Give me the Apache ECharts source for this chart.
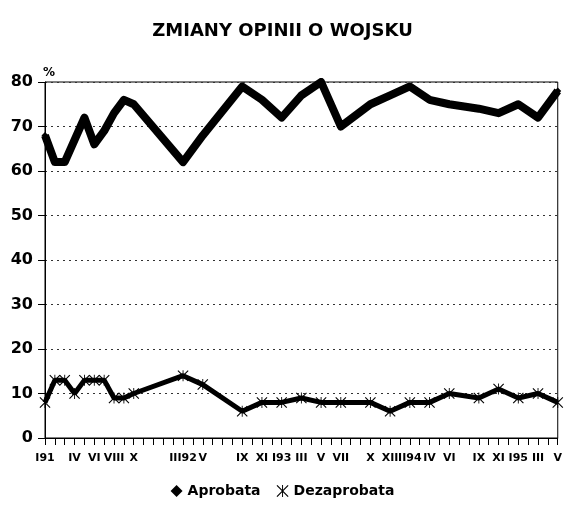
<!DOCTYPE html>
<html>
<head>
<meta charset="utf-8">
<script src="https://cdn.jsdelivr.net/npm/echarts@6/dist/echarts.min.js"></script>
<style>
html,body{margin:0;padding:0;background:#fff;}
#chart{width:565px;height:508px;}
</style>
</head>
<body>
<div id="chart"></div>
<script>
// All months on the axis, I 1991 .. V 1995
const months = [
  'I 91','II 91','III 91','IV 91','V 91','VI 91','VII 91','VIII 91','IX 91','X 91','XI 91','XII 91',
  'I 92','II 92','III 92','IV 92','V 92','VI 92','VII 92','VIII 92','IX 92','X 92','XI 92','XII 92',
  'I 93','II 93','III 93','IV 93','V 93','VI 93','VII 93','VIII 93','IX 93','X 93','XI 93','XII 93',
  'I 94','II 94','III 94','IV 94','V 94','VI 94','VII 94','VIII 94','IX 94','X 94','XI 94','XII 94',
  'I 95','II 95','III 95','IV 95','V 95'
];
// Tick labels shown under the axis (one per month, empty = no label)
const tickLabels = [
  'I91','','','IV','','VI','','VIII','','X','','',
  '','','III92','','V','','','','IX','','XI','',
  'I93','','III','','V','','VII','','','X','','XII',
  '','II94','','IV','','VI','','','IX','','XI','',
  'I95','','III','','V'
];
// Survey months
const surveys = [
  'I 91','II 91','III 91','IV 91','V 91','VI 91','VII 91','VIII 91','IX 91','X 91',
  'III 92','V 92','IX 92','XI 92',
  'I 93','III 93','V 93','VII 93','X 93','XII 93',
  'II 94','IV 94','VI 94','IX 94','XI 94',
  'I 95','III 95','V 95'
];
const aprobata = [
  68,62,62,67,72,66,69,73,76,75,
  62,68,79,76,
  72,77,80,70,75,77,
  79,76,75,74,73,
  75,72,78
];
const dezaprobata = [
  8,13,13,10,13,13,13,9,9,10,
  14,12,6,8,
  8,9,8,8,8,6,
  8,8,10,9,11,
  9,10,8
];
const yTicks = [0,10,20,30,40,50,60,70,80];

const starPath = 'path://M9.2,0 L10.8,0 L10.8,20 L9.2,20 Z M1.4,0 L20,18.6 L18.6,20 L0,1.4 Z M18.6,0 L20,1.4 L1.4,20 L0,18.6 Z';
const FONT = 'DejaVu Sans';

const chart = echarts.init(document.getElementById('chart'), null, {renderer:'canvas'});
chart.setOption({
  animation:false,
  backgroundColor:'#ffffff',
  title:{
    text:'ZMIANY OPINII O WOJSKU',
    left:'center', top:17,
    textStyle:{fontFamily:FONT, fontWeight:'bold', fontSize:18, color:'#000'}
  },
  legend:{
    bottom:5, left:'center',
    itemWidth:12, itemHeight:12, itemGap:16,
    textStyle:{fontFamily:FONT, fontWeight:'bold', fontSize:14, color:'#000'},
    data:[{name:'Aprobata', icon:'diamond'},{name:'Dezaprobata', icon:starPath}]
  },
  grid:{left:45, right:7, top:82, bottom:70, show:true, borderColor:'#000', borderWidth:1, backgroundColor:'transparent'},
  xAxis:{
    type:'category', data:months, boundaryGap:false,
    axisLine:{lineStyle:{color:'#000', width:1}},
    axisTick:{show:true, interval:0, length:7, lineStyle:{color:'#000'}},
    axisLabel:{interval:0, margin:15, color:'#000', fontFamily:FONT, fontWeight:'bold', fontSize:11,
      formatter:(v, i)=>tickLabels[i]},
    splitLine:{show:false}
  },
  yAxis:{
    type:'value', min:yTicks[0], max:yTicks[yTicks.length-1], interval:10,
    name:'%', nameLocation:'end', nameGap:3,
    nameTextStyle:{align:'left', fontFamily:FONT, fontWeight:'bold', fontSize:12, color:'#000', padding:[0,0,0,-2]},
    axisLine:{show:true, lineStyle:{color:'#000', width:1}},
    axisTick:{show:true, length:7, lineStyle:{color:'#000'}},
    axisLabel:{margin:12, color:'#000', fontFamily:FONT, fontWeight:'bold', fontSize:16},
    splitLine:{show:true, lineStyle:{color:'#333', type:[2,4], width:1}}
  },
  series:[
    {
      name:'Aprobata', type:'line',
      data:surveys.map((m,i)=>[m, aprobata[i]]),
      symbol:'diamond', symbolSize:7, showAllSymbol:true,
      lineStyle:{color:'#000', width:8, join:'round'},
      itemStyle:{color:'#000'},
      z:3
    },
    {
      name:'Dezaprobata', type:'line',
      data:surveys.map((m,i)=>[m, dezaprobata[i]]),
      symbol:starPath, symbolSize:11, showAllSymbol:true,
      lineStyle:{color:'#000', width:5},
      itemStyle:{color:'#000'},
      z:4
    }
  ]
});
</script>
</body>
</html>
